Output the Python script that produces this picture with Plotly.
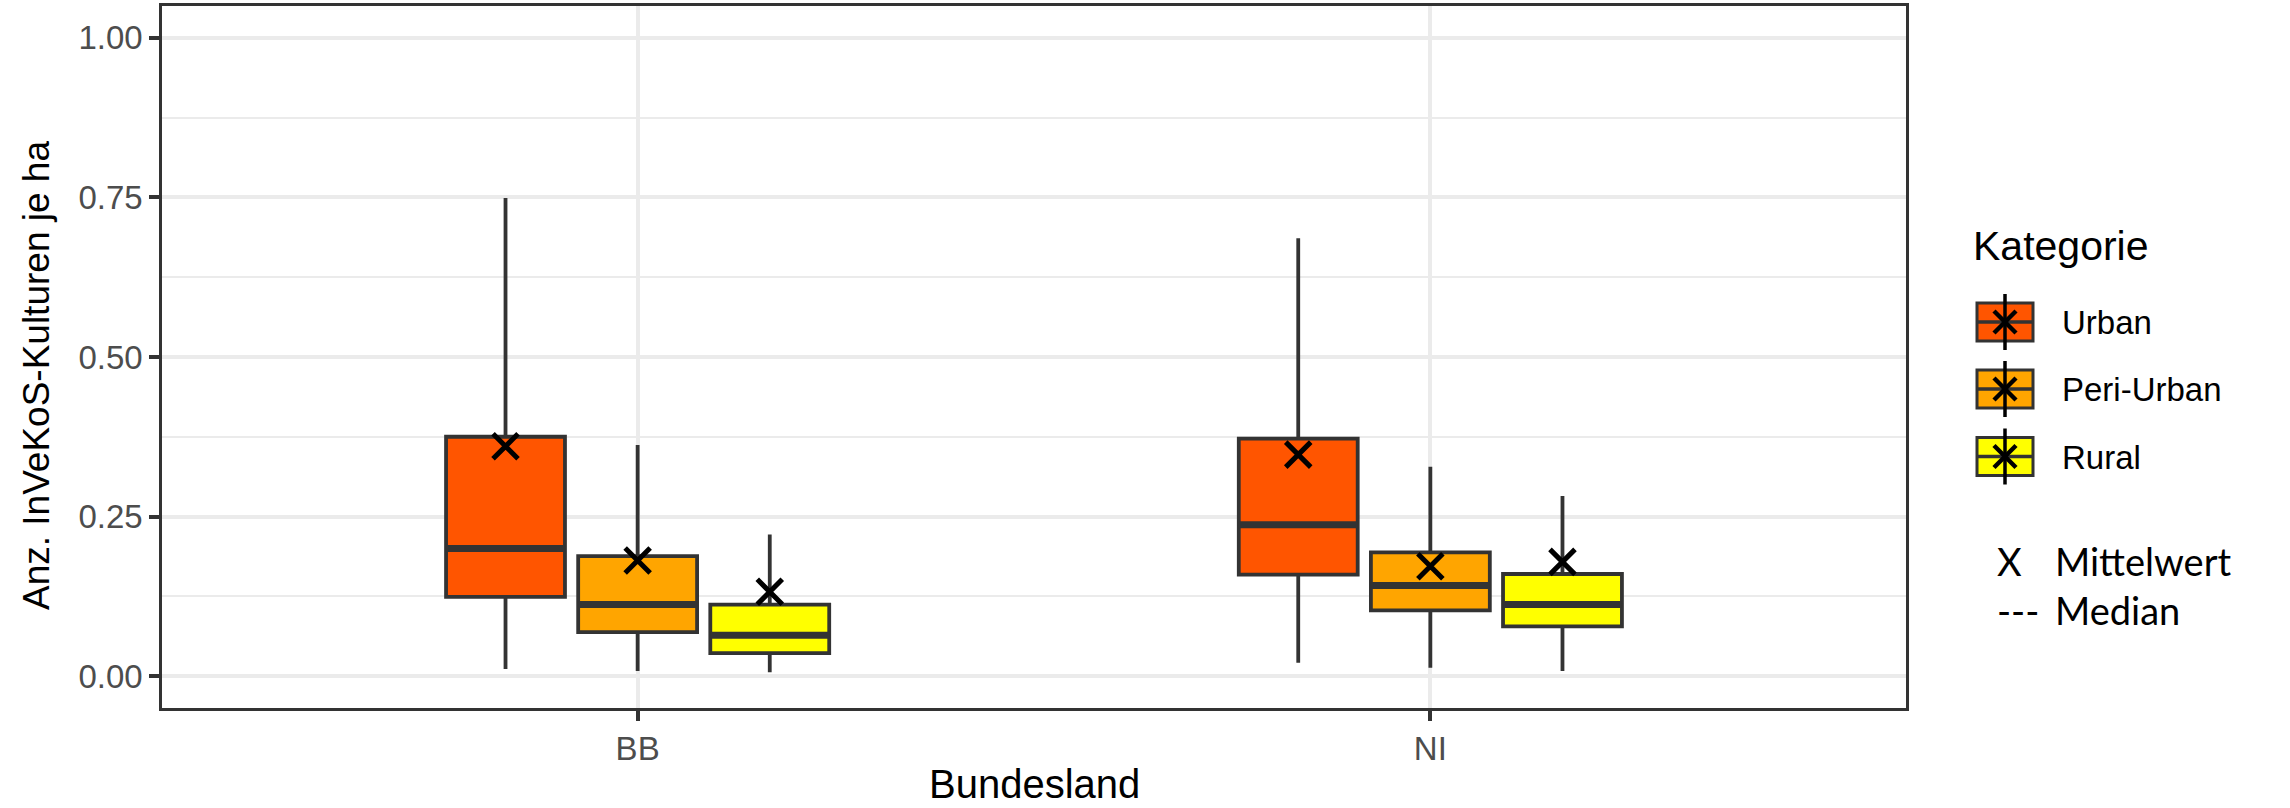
import plotly.graph_objects as go

# Daten: Anzahl InVeKoS-Kulturen je ha, Boxplot-Kennwerte je Kategorie (BB, NI)
bundeslaender = ["BB", "NI"]
kategorien = ["Urban", "Peri-Urban", "Rural"]
farben = ["#FF5500", "#FFA500", "#FFFF00"]

whisker_unten = [[0.011, 0.021], [0.008, 0.013], [0.006, 0.008]]
quartil_1 = [[0.124, 0.159], [0.069, 0.103], [0.036, 0.078]]
median = [[0.200, 0.237], [0.112, 0.142], [0.064, 0.112]]
quartil_3 = [[0.375, 0.372], [0.188, 0.194], [0.112, 0.160]]
whisker_oben = [[0.749, 0.686], [0.362, 0.328], [0.222, 0.282]]
mittelwert = [[0.360, 0.347], [0.181, 0.172], [0.132, 0.179]]

y_ticks = [0.0, 0.25, 0.5, 0.75, 1.0]
y_ticktext = ["0.00", "0.25", "0.50", "0.75", "1.00"]
y_minor = [0.125, 0.375, 0.625, 0.875]

# Seitengeometrie
W, H = 2290, 808
L, R, T, B = 162, 384, 6, 100
PW, PH = W - L - R, H - T - B


def px_x(p):
    return (p - L) / PW


def px_y(p):
    return (H - B - p) / PH


DODGE = 0.5
BOX_W = 0.15
LINIE = "#333333"
SCHRIFT = "Liberation Sans, Arial, sans-serif"

fig = go.Figure()

for k, kat in enumerate(kategorien):
    offset = (k - 1) * DODGE / 3
    xs = [i + 1 + offset for i in range(len(bundeslaender))]
    fig.add_trace(go.Box(
        x=xs,
        q1=quartil_1[k], median=median[k], q3=quartil_3[k],
        lowerfence=whisker_unten[k], upperfence=whisker_oben[k],
        width=BOX_W, whiskerwidth=0, boxpoints=False,
        fillcolor=farben[k], line=dict(color=LINIE, width=3.8),
        name=kat, showlegend=False, hoverinfo="skip",
    ))
    # kräftigere Medianlinie
    mx, my = [], []
    for x, m in zip(xs, median[k]):
        mx += [x - BOX_W / 2, x + BOX_W / 2, None]
        my += [m, m, None]
    fig.add_trace(go.Scatter(
        x=mx, y=my, mode="lines", line=dict(color=LINIE, width=7),
        showlegend=False, hoverinfo="skip",
    ))
    # Mittelwert als Kreuz
    fig.add_trace(go.Scatter(
        x=xs, y=mittelwert[k], mode="markers",
        marker=dict(symbol="x-thin", size=25, color="black",
                    line=dict(color="black", width=5)),
        showlegend=False, hoverinfo="skip",
    ))

# Legende "Kategorie"
shapes = []
annotations = []
key_x0, key_x1 = 1977, 2033
key_cx = (key_x0 + key_x1) / 2
key_centers = [322, 389, 456.5]
for k, kat in enumerate(kategorien):
    cy = key_centers[k]
    shapes.append(dict(type="rect", xref="paper", yref="paper",
                       x0=px_x(key_x0), x1=px_x(key_x1),
                       y0=px_y(cy + 19), y1=px_y(cy - 19),
                       fillcolor=farben[k], line=dict(color=LINIE, width=3)))
    shapes.append(dict(type="line", xref="paper", yref="paper",
                       x0=px_x(key_x0), x1=px_x(key_x1),
                       y0=px_y(cy), y1=px_y(cy),
                       line=dict(color=LINIE, width=3.5)))
    shapes.append(dict(type="line", xref="paper", yref="paper",
                       x0=px_x(key_cx), x1=px_x(key_cx),
                       y0=px_y(cy + 28), y1=px_y(cy - 28),
                       line=dict(color="black", width=3.5)))
    for s in (1, -1):
        shapes.append(dict(type="line", xref="paper", yref="paper",
                           x0=px_x(key_cx - 11), x1=px_x(key_cx + 11),
                           y0=px_y(cy - 11 * s), y1=px_y(cy + 11 * s),
                           line=dict(color="black", width=4.5)))
    annotations.append(dict(text=kat, xref="paper", yref="paper",
                            x=px_x(2060), y=px_y(cy + 0.5),
                            xanchor="left", yanchor="middle", showarrow=False,
                            font=dict(family=SCHRIFT, size=33, color="black")))

annotations.append(dict(text="Kategorie", xref="paper", yref="paper",
                        x=px_x(1971), y=px_y(246.5),
                        xanchor="left", yanchor="middle", showarrow=False,
                        font=dict(family=SCHRIFT, size=41, color="black")))

# Erläuterung der Symbole
ERKL = "Lato, Open Sans, sans-serif"
for sym, txt, cy in (("X", "Mittelwert", 561), ("---", "Median", 609.5)):
    annotations.append(dict(text=sym, xref="paper", yref="paper",
                            x=px_x(1995), y=px_y(cy),
                            xanchor="left", yanchor="middle", showarrow=False,
                            font=dict(family=ERKL, size=38, color="black")))
    annotations.append(dict(text=txt, xref="paper", yref="paper",
                            x=px_x(2053), y=px_y(cy),
                            xanchor="left", yanchor="middle", showarrow=False,
                            font=dict(family=ERKL, size=38, color="black")))

# Achsentitel
annotations.append(dict(text="Bundesland", xref="paper", yref="paper",
                        x=0.5, y=px_y(784), xanchor="center", yanchor="middle",
                        showarrow=False,
                        font=dict(family=SCHRIFT, size=40, color="black")))
annotations.append(dict(text="Anz. InVeKoS-Kulturen je ha", xref="paper", yref="paper",
                        x=px_x(36), y=px_y(376), xanchor="center", yanchor="middle",
                        textangle=-90, showarrow=False,
                        font=dict(family=SCHRIFT, size=37, color="black")))

fig.update_layout(
    width=W, height=H,
    margin=dict(l=L, r=R, t=T, b=B, autoexpand=False),
    paper_bgcolor="white", plot_bgcolor="white",
    boxmode="overlay",
    showlegend=False,
    shapes=shapes,
    annotations=annotations,
    font=dict(family=SCHRIFT),
)

fig.update_xaxes(
    range=[0.4, 2.6],
    tickvals=[i + 1 for i in range(len(bundeslaender))],
    ticktext=bundeslaender,
    showgrid=True, gridcolor="#EBEBEB", gridwidth=3.5,
    zeroline=False,
    ticks="outside", ticklen=10, tickwidth=3.5, tickcolor=LINIE,
    tickfont=dict(family=SCHRIFT, size=33, color="#4D4D4D"),
    showline=True, linecolor=LINIE, linewidth=2.5, mirror=True,
)
fig.update_yaxes(
    range=[-0.05, 1.05],
    tickvals=y_ticks, ticktext=y_ticktext,
    showgrid=True, gridcolor="#EBEBEB", gridwidth=3.5,
    minor=dict(tickvals=y_minor, showgrid=True, gridcolor="#EBEBEB",
               gridwidth=1.8, ticks=""),
    zeroline=False,
    ticks="outside", ticklen=10, tickwidth=3.5, tickcolor=LINIE,
    tickfont=dict(family=SCHRIFT, size=33, color="#4D4D4D"),
    showline=True, linecolor=LINIE, linewidth=2.5, mirror=True,
)

fig.write_html("out.html")
